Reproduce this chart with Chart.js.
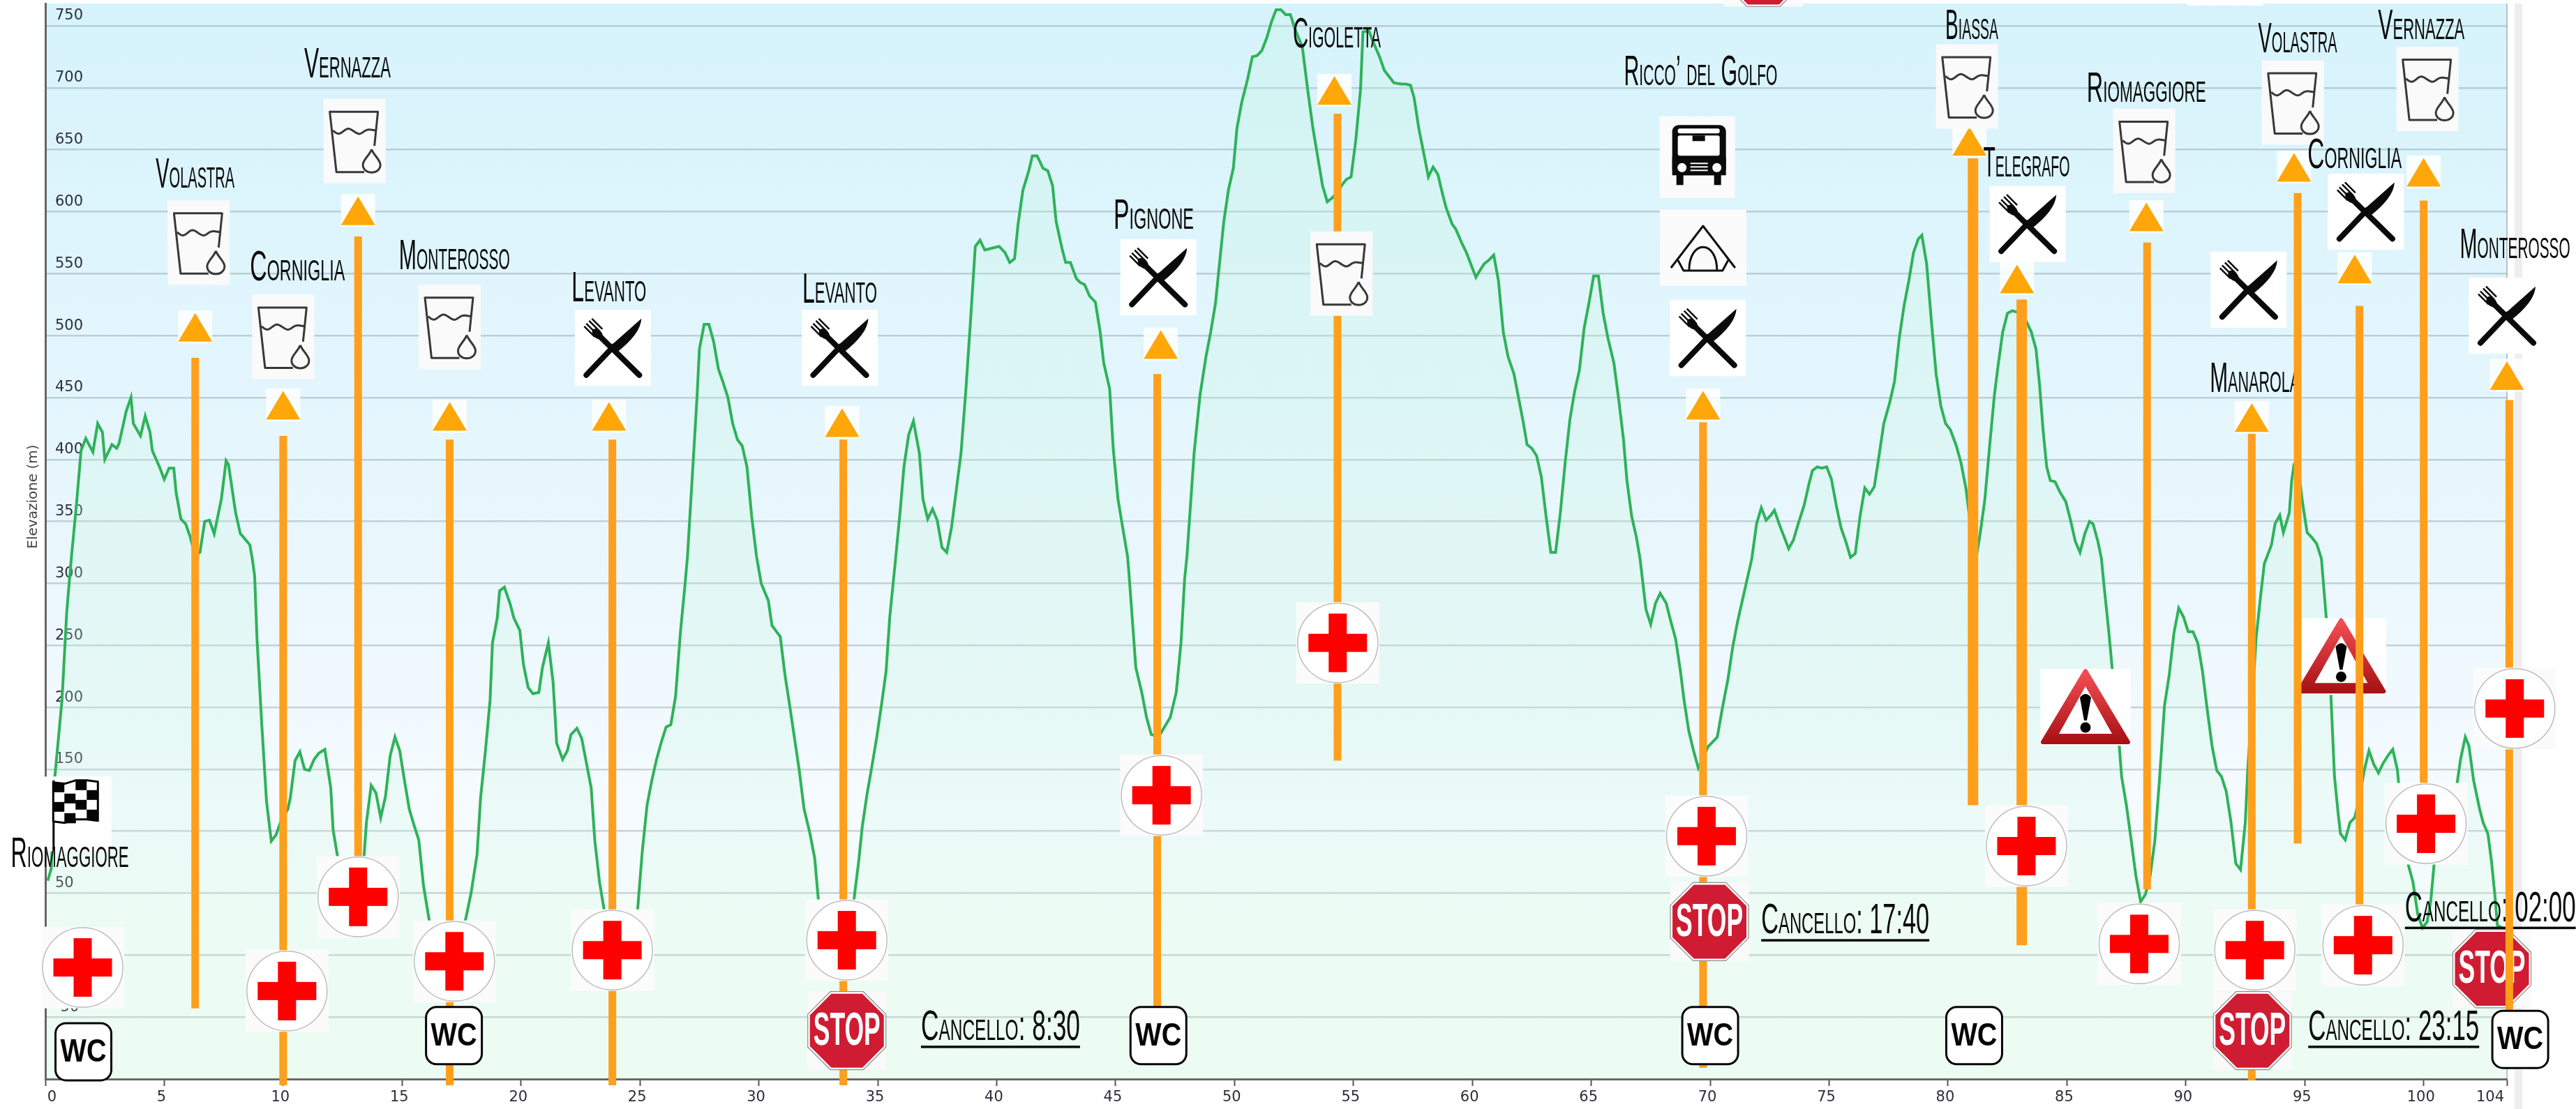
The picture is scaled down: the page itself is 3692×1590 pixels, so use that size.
<!DOCTYPE html>
<html lang="en">

<head>
  <meta charset="UTF-8">
  <title>Elevazione</title>
  <script src="https://cdn.jsdelivr.net/npm/chart.js"></script>
  <style>
    html, body { margin: 0; padding: 0; background: #fff; }
    canvas { display: block; }
  </style>
</head>

<body>
  <canvas id="profile" width="3692" height="1590"></canvas>

  <script>
    // elevation profile
    const distanceKm = [
      0.1, 0.25, 0.4, 0.7, 0.9, 1.0, 1.1, 1.3, 1.5, 1.7, 2.0, 2.2, 2.4, 2.5, 2.8, 3.0, 3.1, 3.4, 3.6, 3.7,
      4.0, 4.2, 4.4, 4.5, 4.8, 5.0, 5.2, 5.4, 5.5, 5.7, 5.9, 6.1, 6.3, 6.5, 6.7, 6.9, 7.1, 7.4, 7.6, 7.7,
      8.0, 8.2, 8.3, 8.6, 8.7, 8.8, 8.9, 9.1, 9.3, 9.5, 9.7, 9.9, 10.2, 10.3, 10.5, 10.7, 10.9, 11.1, 11.3, 11.5,
      11.75, 12.0, 12.1, 12.3, 12.6, 12.85, 13.0, 13.2, 13.4, 13.5, 13.7, 13.9, 14.1, 14.3, 14.5, 14.7, 14.9, 15.1, 15.3, 15.5,
      15.7, 15.9, 16.15, 16.5, 17.0, 17.3, 17.65, 17.9, 18.15, 18.3, 18.5, 18.7, 18.8, 19.0, 19.1, 19.3, 19.55, 19.7, 19.95, 20.1,
      20.3, 20.5, 20.75, 20.9, 21.15, 21.35, 21.5, 21.75, 21.95, 22.1, 22.35, 22.55, 22.75, 22.95, 23.1, 23.3, 23.5, 23.9, 24.3, 24.6,
      24.9, 25.1, 25.3, 25.5, 25.7, 25.9, 26.1, 26.3, 26.5, 26.7, 26.9, 27.0, 27.4, 27.5, 27.7, 27.9, 28.1, 28.3, 28.5, 28.7,
      28.9, 29.1, 29.3, 29.5, 29.7, 29.9, 30.1, 30.4, 30.55, 30.9, 31.1, 31.3, 31.5, 31.7, 31.9, 32.15, 32.35, 32.5, 32.9, 33.3,
      33.7, 34.0, 34.2, 34.35, 34.55, 34.75, 34.95, 35.15, 35.35, 35.5, 35.75, 35.95, 36.1, 36.3, 36.5, 36.75, 36.9, 37.1, 37.3, 37.5,
      37.7, 37.9, 38.1, 38.5, 38.7, 38.9, 39.1, 39.3, 39.5, 40.1, 40.35, 40.55, 40.75, 40.9, 41.1, 41.35, 41.5, 41.7, 41.95, 42.15,
      42.35, 42.5, 42.75, 42.9, 43.1, 43.35, 43.5, 43.7, 43.9, 44.15, 44.35, 44.5, 44.75, 44.9, 45.1, 45.3, 45.5, 45.55, 45.7, 45.85,
      46.1, 46.3, 46.5, 46.7, 46.9, 47.3, 47.55, 47.75, 47.9, 48.0, 48.3, 48.55, 48.8, 49.0, 49.2, 49.4, 49.55, 49.75, 49.95, 50.1,
      50.3, 50.55, 50.75, 50.95, 51.15, 51.35, 51.55, 51.75, 51.95, 52.15, 52.35, 52.55, 52.85, 53.1, 53.3, 53.5, 53.7, 53.9, 54.1, 54.3,
      54.5, 54.7, 54.9, 55.1, 55.3, 55.4, 55.65, 55.85, 56.1, 56.3, 56.5, 56.7, 57.0, 57.2, 57.4, 57.55, 57.75, 58.0, 58.15, 58.35,
      58.55, 58.75, 58.9, 59.15, 59.3, 59.55, 59.75, 59.95, 60.15, 60.3, 60.5, 60.7, 60.9, 61.1, 61.3, 61.5, 61.75, 61.95, 62.15, 62.3,
      62.5, 62.7, 62.9, 63.1, 63.3, 63.5, 63.7, 63.9, 64.1, 64.3, 64.5, 64.7, 64.9, 65.1, 65.3, 65.5, 65.7, 65.95, 66.15, 66.35,
      66.5, 66.7, 66.9, 67.05, 67.3, 67.5, 67.7, 67.9, 68.15, 68.35, 68.55, 68.75, 68.9, 69.1, 69.3, 69.5, 69.75, 69.9, 70.1, 70.3,
      70.5, 70.75, 70.95, 71.15, 71.35, 71.55, 71.75, 71.95, 72.15, 72.35, 72.55, 72.7, 72.9, 73.1, 73.3, 73.5, 73.7, 73.95, 74.15, 74.3,
      74.5, 74.7, 74.9, 75.1, 75.3, 75.5, 75.7, 75.9, 76.1, 76.3, 76.5, 76.7, 76.9, 77.1, 77.3, 77.55, 77.75, 77.95, 78.15, 78.35,
      78.55, 78.75, 78.9, 79.1, 79.3, 79.5, 79.7, 79.9, 80.1, 80.35, 80.55, 80.75, 80.9, 81.1, 81.2, 81.35, 81.55, 81.75, 81.95, 82.1,
      82.3, 82.5, 82.7, 82.9, 83.1, 83.3, 83.5, 83.7, 83.85, 84.0, 84.15, 84.3, 84.5, 84.7, 84.95, 85.15, 85.35, 85.55, 85.75, 85.95,
      86.1, 86.3, 86.45, 86.55, 86.75, 86.9, 87.2, 87.3, 87.5, 87.7, 87.9, 88.1, 88.3, 88.5, 88.7, 88.9, 89.1, 89.3, 89.5, 89.7,
      89.9, 90.1, 90.3, 90.5, 90.7, 90.9, 91.1, 91.3, 91.5, 91.7, 91.9, 92.1, 92.3, 92.5, 92.6, 92.8, 92.95, 93.15, 93.3, 93.6,
      93.75, 93.95, 94.1, 94.35, 94.45, 94.55, 94.7, 94.9, 95.1, 95.3, 95.5, 95.7, 95.9, 96.1, 96.25, 96.4, 96.5, 96.7, 96.9, 97.1,
      97.3, 97.5, 97.7, 97.9, 98.1, 98.3, 98.5, 98.7, 98.9, 99.05, 99.35, 99.55, 99.75, 99.95, 100.15, 100.3, 100.45, 101.4, 101.55, 101.75,
      101.9, 102.1, 102.35, 102.5, 102.7, 102.85, 103.0, 103.1, 103.3, 103.5
    ];
    const elevationM = [
      60, 70, 144, 206, 277, 300, 322, 362, 407, 417, 406, 429, 422, 400, 412, 409, 413, 439, 450, 429,
      419, 435, 422, 407, 394, 384, 393, 393, 373, 352, 348, 337, 322, 325, 350, 351, 340, 368, 399, 396,
      357, 340, 338, 331, 320, 306, 255, 186, 124, 92, 97, 108, 118, 127, 157, 164, 150, 149, 158, 163,
      166, 135, 101, 78, 60, 45, 40, 40, 80, 107, 137, 131, 111, 128, 161, 176, 165, 141, 118, 105,
      93, 56, 27, 12, 5, 12, 27, 50, 81, 127, 164, 206, 252, 272, 294, 297, 283, 272, 262, 235,
      216, 211, 212, 232, 252, 220, 171, 158, 165, 178, 183, 175, 155, 135, 93, 59, 36, 15, 10, 20,
      36, 84, 121, 141, 158, 172, 184, 186, 209, 260, 300, 322, 450, 489, 509, 509, 495, 473, 462, 450,
      429, 416, 411, 394, 354, 322, 300, 286, 266, 257, 226, 201, 175, 149, 118, 98, 78, 45, 25, 15,
      18, 45, 76, 104, 130, 152, 175, 201, 229, 272, 320, 360, 394, 420, 431, 405, 368, 352, 360, 351,
      329, 325, 345, 405, 455, 512, 572, 577, 569, 572, 567, 559, 562, 590, 617, 633, 645, 645, 635, 633,
      621, 592, 570, 559, 559, 546, 543, 541, 532, 527, 503, 478, 457, 409, 368, 345, 322, 311, 272, 232,
      212, 192, 178, 177, 179, 192, 212, 252, 303, 322, 405, 452, 483, 503, 526, 564, 592, 618, 635, 667,
      688, 707, 725, 726, 730, 740, 753, 763, 763, 759, 759, 747, 733, 695, 667, 644, 621, 608, 611, 615,
      621, 626, 628, 658, 699, 745, 746, 736, 725, 714, 709, 704, 703, 703, 702, 692, 667, 643, 628, 636,
      630, 614, 603, 590, 586, 575, 567, 557, 547, 552, 558, 561, 565, 544, 503, 483, 469, 449, 429, 412,
      409, 403, 386, 354, 325, 325, 357, 397, 432, 455, 472, 506, 526, 548, 548, 518, 498, 478, 449, 417,
      383, 354, 337, 320, 279, 267, 284, 292, 284, 269, 255, 229, 206, 181, 165, 151, 161, 168, 172, 176,
      198, 223, 249, 269, 286, 303, 320, 348, 361, 351, 355, 359, 348, 338, 328, 335, 348, 363, 380, 391,
      394, 393, 394, 384, 363, 345, 334, 321, 324, 354, 377, 372, 378, 403, 429, 446, 463, 498, 524, 544,
      567, 578, 581, 558, 512, 469, 443, 429, 424, 411, 397, 377, 354, 331, 322, 340, 368, 411, 452, 475,
      503, 518, 520, 519, 516, 511, 503, 489, 460, 423, 394, 383, 382, 374, 366, 351, 334, 325, 340, 350,
      348, 334, 320, 300, 263, 232, 169, 144, 121, 93, 64, 43, 49, 64, 93, 144, 201, 226, 260, 280,
      273, 261, 261, 252, 229, 198, 169, 149, 144, 132, 107, 74, 69, 107, 149, 206, 255, 291, 316, 331,
      348, 355, 341, 357, 383, 396, 397, 366, 341, 337, 332, 320, 273, 209, 144, 115, 98, 93, 107, 111,
      127, 149, 165, 154, 147, 155, 161, 166, 149, 115, 73, 59, 33, 22, 27, 44, 76, 138, 158, 176,
      169, 141, 118, 107, 98, 76, 47, 24, 22, 19
    ];

    // axes
    const xTickValues = [0, 5, 10, 15, 20, 25, 30, 35, 40, 45, 50, 55, 60, 65, 70, 75, 80, 85, 90, 95, 100, 103.5];
    const xTickLabels = ['0', '5', '10', '15', '20', '25', '30', '35', '40', '45', '50', '55', '60', '65', '70', '75', '80', '85', '90', '95', '100', '104'];
    const xMax = 103.5;
    const yMin = -100;
    const yMax = 768;
    const yTitle = 'Elevazione (m)';

    // orange uphill bars
    const barKm = [6.3, 10.0, 13.15, 17.0, 23.84, 33.55, 46.75, 54.33, 69.7, 81.05, 83.1, 88.37, 92.77, 94.7, 97.3, 100.0, 103.6];
    const barTopM = [482, 419, 580, 416, 416, 416, 469, 679, 430, 643, 529, 575, 421, 615, 524, 609, 448];
    const barBottomM = [-43, -105, 45, -105, -105, -105, -60, 157, -91, 121, 8, 53, -101, 90, 40, 139, -45];
    const barThickness = [11, 11, 11, 11, 11, 11, 11, 11, 11, 15, 15, 11, 11, 11, 11, 11, 11];

    // icon anchors: km along the route, metres on the elevation scale
    const triangleKm = [6.3, 10.0, 13.15, 17.0, 23.7, 33.5, 46.9, 54.2, 69.7, 80.9, 82.9, 88.34, 92.77, 94.55, 97.1, 100.0, 103.5];
    const triangleM = [507, 444, 601, 435, 435, 430, 493, 698, 444, 657, 546, 596, 434, 636, 554, 632, 468];
    const waterKm = [6.45, 10.0, 13.0, 17.0, 54.5, 80.8, 88.25, 94.5, 100.16];
    const waterM = [575, 499, 657, 507, 550, 701, 649, 688, 699];
    const foodKm = [23.86, 33.4, 46.8, 69.9, 83.35, 92.64, 97.57, 103.5, 91.65];
    const foodM = [490, 490, 547, 498, 590, 537, 600, 516, 797];
    const medicKm = [1.57, 10.16, 13.15, 17.2, 23.84, 33.7, 46.93, 54.34, 69.85, 83.3, 88.04, 92.9, 97.45, 100.1, 103.83];
    const medicM = [-10, -29, 47, -5, 4, 12, 129, 252, 96, 88, 9, 4, 8, 106, 199];
    const wcKm = [1.6, 17.18, 46.8, 70.0, 81.1, 104.06];
    const wcM = [-78, -65, -65, -65, -65, -68];
    const stopKm = [33.7, 69.97, 92.8, 72.24];
    const stopM = [-61, 27, -61, 797];
    const lateStopKm = [102.87];
    const lateStopM = [-11];
    const warningKm = [85.78, 96.53];
    const warningM = [200, 241];

    // place names
    const placeNames = ['Riomaggiore', 'Volastra', 'Corniglia', 'Vernazza', 'Monterosso', 'Levanto', 'Levanto', 'Pignone', 'Cigoletta', 'Ricco’ del Golfo', 'Biassa', 'Telegrafo', 'Riomaggiore', 'Volastra', 'Corniglia', 'Vernazza', 'Monterosso'];
    const placeKm = [1.03, 6.3, 10.6, 12.7, 17.2, 23.7, 33.4, 46.6, 54.3, 69.6, 81.0, 83.3, 88.34, 94.7, 97.1, 99.9, 103.84];
    const placeM = [81, 629, 554, 718, 563, 537, 536, 596, 742, 712, 749, 638, 698, 738, 645, 749, 572];
    const placeWidth = [169, 113, 136, 124, 159, 107, 107, 115, 126, 220, 76, 124, 171, 113, 135, 124, 158];
    const gateNames = ['Cancello: 8:30', 'Cancello: 17:40', 'Cancello: 23:15'];
    const gateKm = [40.16, 75.68, 98.74];
    const gateM = [-59, 27, -59];
    const gateWidth = [228, 241, 245];

    const narrow = '"Liberation Sans Narrow", "Liberation Sans", sans-serif';
    const nameFont = 'small-caps 62px ' + narrow;

    function fitText(ctx, text, cx, cy, width, font, color) {
      ctx.save();
      ctx.font = font;
      const natural = ctx.measureText(text).width;
      ctx.translate(cx, cy);
      ctx.scale(width / natural, 1);
      ctx.textAlign = 'center';
      ctx.textBaseline = 'middle';
      ctx.fillStyle = color;
      ctx.fillText(text, 0, 0);
      ctx.restore();
    }

    function box(ctx, cx, cy, w, h, color) {
      ctx.fillStyle = color;
      ctx.fillRect(cx - w / 2, cy - h / 2, w, h);
    }

    function drawTriangle(ctx, cx, cy) {
      box(ctx, cx, cy, 49, 47, 'rgba(255,255,255,0.85)');
      ctx.fillStyle = '#ffa608';
      ctx.beginPath();
      ctx.moveTo(cx, cy - 20);
      ctx.lineTo(cx + 24.5, cy + 21);
      ctx.lineTo(cx - 24.5, cy + 21);
      ctx.closePath();
      ctx.fill();
    }

    function drawWater(ctx, cx, cy) {
      box(ctx, cx, cy, 89, 121, '#fafafa');
      ctx.save();
      ctx.translate(cx, cy);
      ctx.strokeStyle = '#383838';
      ctx.lineWidth = 3;
      ctx.beginPath();
      ctx.moveTo(14, 44.5);
      ctx.lineTo(-26, 44.5);
      ctx.lineTo(-35.5, -42);
      ctx.lineTo(33.5, -42);
      ctx.lineTo(28.5, 7);
      ctx.stroke();
      ctx.beginPath();
      ctx.moveTo(-31, -15);
      ctx.bezierCurveTo(-24, -9, -22, -9, -16, -14);
      ctx.bezierCurveTo(-10, -19, -8, -19, -1, -14);
      ctx.bezierCurveTo(6, -9, 8, -9, 14, -14);
      ctx.bezierCurveTo(20, -18, 24, -16, 30, -15);
      ctx.stroke();
      ctx.beginPath();
      ctx.moveTo(24.5, 12);
      ctx.bezierCurveTo(28, 21, 37, 27, 37, 34);
      ctx.bezierCurveTo(37, 41, 31, 45, 24.5, 45);
      ctx.bezierCurveTo(18, 45, 12, 41, 12, 34);
      ctx.bezierCurveTo(12, 27, 21, 21, 24.5, 12);
      ctx.stroke();
      ctx.restore();
    }

    function drawFood(ctx, cx, cy) {
      box(ctx, cx, cy, 109, 109, '#ffffff');
      ctx.save();
      ctx.translate(cx, cy);
      ctx.strokeStyle = '#0a0a0a';
      ctx.fillStyle = '#0a0a0a';
      ctx.lineCap = 'round';
      // knife
      ctx.lineWidth = 8;
      ctx.beginPath();
      ctx.moveTo(-38, 39);
      ctx.lineTo(1, -2);
      ctx.stroke();
      ctx.beginPath();
      ctx.moveTo(-3, -3);
      ctx.lineTo(41, -42);
      ctx.quadraticCurveTo(40, -20, 5, 7);
      ctx.closePath();
      ctx.fill();
      // fork
      ctx.beginPath();
      ctx.moveTo(38, 39);
      ctx.lineTo(-18, -16);
      ctx.stroke();
      ctx.beginPath();
      ctx.ellipse(-22, -20, 6, 9, -Math.PI / 4, 0, Math.PI * 2);
      ctx.fill();
      ctx.lineWidth = 2.5;
      ctx.lineCap = 'butt';
      [[-41, -31], [-38, -35], [-34, -39], [-30, -42]].forEach(function (tine) {
        ctx.beginPath();
        ctx.moveTo(tine[0] + 15, tine[1] + 15);
        ctx.lineTo(tine[0], tine[1]);
        ctx.stroke();
      });
      ctx.restore();
    }

    function drawMedic(ctx, cx, cy) {
      box(ctx, cx, cy, 119, 117, '#fbfbfb');
      ctx.beginPath();
      ctx.ellipse(cx, cy, 57.5, 57, 0, 0, Math.PI * 2);
      ctx.fillStyle = '#ffffff';
      ctx.fill();
      ctx.strokeStyle = '#bdbdbd';
      ctx.lineWidth = 1.5;
      ctx.stroke();
      ctx.fillStyle = '#ff0000';
      ctx.fillRect(cx - 13, cy - 42, 26, 84);
      ctx.fillRect(cx - 42, cy - 13, 84, 26);
    }

    function drawWc(ctx, cx, cy) {
      ctx.beginPath();
      ctx.roundRect(cx - 40, cy - 41, 80, 82, 15);
      ctx.fillStyle = '#ffffff';
      ctx.fill();
      ctx.strokeStyle = '#050505';
      ctx.lineWidth = 3;
      ctx.stroke();
      fitText(ctx, 'WC', cx, cy + 1, 66, 'bold 46px "Liberation Sans", sans-serif', '#050505');
    }

    function drawStop(ctx, cx, cy) {
      box(ctx, cx, cy, 113, 112, '#fafafa');
      const octagon = function (r) {
        const c = r * 0.42;
        ctx.beginPath();
        ctx.moveTo(cx - c, cy - r);
        ctx.lineTo(cx + c, cy - r);
        ctx.lineTo(cx + r, cy - c);
        ctx.lineTo(cx + r, cy + c);
        ctx.lineTo(cx + c, cy + r);
        ctx.lineTo(cx - c, cy + r);
        ctx.lineTo(cx - r, cy + c);
        ctx.lineTo(cx - r, cy - c);
        ctx.closePath();
      };
      octagon(56);
      ctx.fillStyle = '#ffffff';
      ctx.fill();
      ctx.strokeStyle = '#8c8c8c';
      ctx.lineWidth = 1.2;
      ctx.stroke();
      octagon(53);
      ctx.fillStyle = '#cf1c33';
      ctx.fill();
      fitText(ctx, 'STOP', cx, cy + 2, 96, 'bold 66px ' + narrow, '#ffffff');
    }

    function drawWarning(ctx, cx, cy) {
      box(ctx, cx, cy, 129, 110, '#ffffff');
      const grad = ctx.createLinearGradient(0, cy - 55, 0, cy + 55);
      grad.addColorStop(0, '#f65055');
      grad.addColorStop(1, '#a30f12');
      ctx.fillStyle = grad;
      ctx.strokeStyle = grad;
      ctx.lineWidth = 6;
      ctx.lineJoin = 'round';
      ctx.beginPath();
      ctx.moveTo(cx, cy - 52);
      ctx.lineTo(cx + 61, cy + 50);
      ctx.lineTo(cx - 61, cy + 50);
      ctx.closePath();
      ctx.fill();
      ctx.stroke();
      ctx.fillStyle = '#ffffff';
      ctx.beginPath();
      ctx.moveTo(cx, cy - 30);
      ctx.lineTo(cx + 38, cy + 38);
      ctx.lineTo(cx - 38, cy + 38);
      ctx.closePath();
      ctx.fill();
      ctx.fillStyle = '#000000';
      ctx.beginPath();
      ctx.moveTo(cx - 8, cy - 14);
      ctx.quadraticCurveTo(cx, cy - 24, cx + 8, cy - 14);
      ctx.lineTo(cx + 2, cy + 19);
      ctx.lineTo(cx - 2, cy + 19);
      ctx.closePath();
      ctx.fill();
      ctx.beginPath();
      ctx.arc(cx, cy + 29, 7.5, 0, Math.PI * 2);
      ctx.fill();
    }

    function drawTent(ctx, cx, cy) {
      box(ctx, cx, cy, 124, 109, '#fbfbfb');
      ctx.save();
      ctx.translate(cx, cy);
      ctx.strokeStyle = '#111111';
      ctx.lineWidth = 3;
      ctx.lineJoin = 'round';
      ctx.beginPath();
      ctx.moveTo(-46, 29);
      ctx.lineTo(0, -31);
      ctx.lineTo(46, 29);
      ctx.stroke();
      ctx.beginPath();
      ctx.moveTo(-36, 18);
      ctx.lineTo(-28, 33);
      ctx.lineTo(28, 33);
      ctx.lineTo(36, 18);
      ctx.stroke();
      ctx.beginPath();
      ctx.moveTo(-20, 33);
      ctx.bezierCurveTo(-20, -12, 20, -12, 20, 33);
      ctx.stroke();
      ctx.restore();
    }

    function drawBus(ctx, cx, cy) {
      box(ctx, cx, cy, 108, 117, '#fbfbfb');
      ctx.save();
      ctx.translate(cx + 2, cy);
      ctx.fillStyle = '#0a0a0a';
      ctx.beginPath();
      ctx.roundRect(-38, -46, 77, 72, 9);
      ctx.fill();
      ctx.fillRect(-38, 0, 77, 26);
      ctx.fillRect(-32, 24, 10, 16);
      ctx.fillRect(22, 24, 10, 16);
      ctx.fillStyle = '#ffffff';
      ctx.beginPath();
      ctx.roundRect(-30, -41, 60, 7, 3);
      ctx.fill();
      ctx.beginPath();
      ctx.roundRect(-30, -31, 60, 29, 3);
      ctx.fill();
      ctx.fillStyle = '#0a0a0a';
      ctx.fillRect(-9, -31, 18, 8);
      ctx.fillStyle = '#ffffff';
      ctx.beginPath();
      ctx.arc(-24, 15, 6.5, 0, Math.PI * 2);
      ctx.arc(26, 15, 6.5, 0, Math.PI * 2);
      ctx.fill();
      ctx.fillRect(-12, 8, 25, 2);
      ctx.fillRect(-12, 13, 25, 2);
      ctx.fillRect(-12, 18, 25, 2);
      ctx.restore();
    }

    function drawFlag(ctx, cx, cy) {
      box(ctx, cx, cy, 103, 107, '#ffffff');
      ctx.fillStyle = '#050505';
      ctx.fillRect(cx - 33, cy - 48, 3, 100);
      const cols = 4;
      const rows = 4;
      const cw = 64 / cols;
      const ch = 56 / rows;
      const wave = [3, 5, 0, 0, 2];
      for (let c = 0; c < cols; c++) {
        for (let r = 0; r < rows; r++) {
          ctx.fillStyle = (c + r) % 2 === 0 ? '#050505' : '#ffffff';
          ctx.fillRect(cx - 32 + c * cw, cy - 48 + r * ch + wave[c], cw + 0.5, ch + 0.5);
        }
      }
      ctx.strokeStyle = '#050505';
      ctx.lineWidth = 3;
      ctx.beginPath();
      ctx.moveTo(cx - 32, cy - 45);
      for (let c = 1; c <= cols; c++) ctx.lineTo(cx - 32 + c * cw, cy - 48 + wave[c]);
      ctx.lineTo(cx + 32, cy + 10);
      for (let c = cols - 1; c >= 0; c--) ctx.lineTo(cx - 32 + c * cw, cy + 8 + wave[c]);
      ctx.closePath();
      ctx.stroke();
    }

    function placeIcons(chart, kms, ms, draw) {
      const x = chart.scales.x;
      const y = chart.scales.y;
      kms.forEach(function (km, i) {
        draw(chart.ctx, x.getPixelForValue(km), y.getPixelForValue(ms[i]));
      });
    }

    function drawPlaceName(chart, i) {
      fitText(chart.ctx, placeNames[i], chart.scales.x.getPixelForValue(placeKm[i]), chart.scales.y.getPixelForValue(placeM[i]),
        placeWidth[i], nameFont, '#0a0a0a');
    }

    function drawGate(chart, text, km, m, width) {
      const ctx = chart.ctx;
      const cx = chart.scales.x.getPixelForValue(km);
      const cy = chart.scales.y.getPixelForValue(m);
      fitText(ctx, text, cx, cy, width, nameFont, '#0a0a0a');
      ctx.fillStyle = '#0a0a0a';
      ctx.fillRect(cx - width / 2, cy + 25, width, 3.5);
    }

    const courseDecor = {
      id: 'courseDecor',
      beforeDraw(chart) {
        const ctx = chart.ctx;
        const area = chart.chartArea;
        const grad = ctx.createLinearGradient(0, area.top, 0, area.bottom);
        grad.addColorStop(0, '#d6f3fc');
        grad.addColorStop(0.5, '#e9f7fd');
        grad.addColorStop(0.75, '#f6fbff');
        grad.addColorStop(0.85, '#f2fcf8');
        grad.addColorStop(1, '#eefcf3');
        ctx.fillStyle = grad;
        ctx.fillRect(area.left, area.top, area.right - area.left, area.bottom - area.top);
        ctx.fillStyle = '#eeeeee';
        ctx.fillRect(area.right + 11, area.top, 11, chart.height - area.top);
        ctx.fillStyle = '#b9c2c6';
        ctx.fillRect(area.right - 1, area.top, 2, area.bottom - area.top);
      },
      afterDraw(chart) {
        const ctx = chart.ctx;
        // axis title sits off centre, so it is placed by hand
        ctx.save();
        ctx.translate(48, chart.scales.y.getPixelForValue(370));
        ctx.rotate(-Math.PI / 2);
        ctx.font = '20px "DejaVu Sans", sans-serif';
        ctx.textAlign = 'center';
        ctx.textBaseline = 'middle';
        ctx.fillStyle = '#444444';
        ctx.fillText(yTitle, 0, 0);
        ctx.restore();
      },
      afterDatasetDraw(chart, args) {
        // things the orange bars run over
        if (args.index !== 0) return;
        placeIcons(chart, lateStopKm, lateStopM, drawStop);
        placeIcons(chart, warningKm, warningM, drawWarning);
        drawGate(chart, 'Cancello: 02:00', 102.8, 37, 245);
        fitText(chart.ctx, 'Manarola', chart.scales.x.getPixelForValue(92.9), chart.scales.y.getPixelForValue(464),
          129, nameFont, '#0a0a0a');
      },
      afterDatasetsDraw(chart) {
        placeIcons(chart, triangleKm, triangleM, drawTriangle);
        placeIcons(chart, waterKm, waterM, drawWater);
        placeIcons(chart, foodKm, foodM, drawFood);
        placeIcons(chart, medicKm, medicM, drawMedic);
        placeIcons(chart, wcKm, wcM, drawWc);
        placeIcons(chart, stopKm, stopM, drawStop);
        placeIcons(chart, [69.7], [571], drawTent);
        placeIcons(chart, [69.46], [644], drawBus);
        placeIcons(chart, [1.27], [114], drawFlag);
        placeNames.forEach(function (name, i) {
          drawPlaceName(chart, i);
        });
        gateNames.forEach(function (name, i) {
          drawGate(chart, name, gateKm[i], gateM[i], gateWidth[i]);
        });
      }
    };

    const profileDataset = {
      label: 'Elevazione',
      data: distanceKm.map(function (km, i) { return { x: km, y: elevationM[i] }; }),
      borderColor: '#2fb25a',
      borderWidth: 4,
      pointRadius: 0,
      tension: 0,
      order: 1,
      fill: 'start',
      backgroundColor: function (context) {
        const area = context.chart.chartArea;
        if (!area) return 'rgba(0,0,0,0)';
        const grad = context.chart.ctx.createLinearGradient(0, area.top, 0, area.bottom);
        grad.addColorStop(0, 'rgba(195,245,220,0.25)');
        grad.addColorStop(0.7, 'rgba(195,245,220,0.24)');
        grad.addColorStop(1, 'rgba(220,252,230,0.1)');
        return grad;
      }
    };

    const barDatasets = barKm.map(function (km, i) {
      return {
        label: 'Salita ' + (i + 1),
        data: [{ x: km, y: barTopM[i] }, { x: km, y: barBottomM[i] }],
        borderColor: '#ff9f1c',
        borderWidth: barThickness[i],
        borderCapStyle: 'butt',
        pointRadius: 0,
        fill: false,
        clip: false,
        order: 0
      };
    });

    new Chart(document.getElementById('profile'), {
      type: 'line',
      data: { datasets: [profileDataset].concat(barDatasets) },
      plugins: [courseDecor],
      options: {
        responsive: false,
        animation: false,
        layout: { padding: { top: 5, right: 99, left: 0, bottom: 0 } },
        plugins: { legend: { display: false }, tooltip: { enabled: false } },
        scales: {
          x: {
            type: 'linear',
            min: 0,
            max: xMax,
            afterBuildTicks(scale) {
              scale.ticks = xTickValues.map(function (v) { return { value: v }; });
            },
            afterFit(scale) { scale.height = 43; },
            ticks: {
              autoSkip: false,
              maxRotation: 0,
              padding: 4,
              labelOffset: -4,
              color: '#2e2e3c',
              font: { family: '"DejaVu Sans"', size: 21 },
              callback(value) {
                const label = xTickLabels[xTickValues.indexOf(value)];
                if (label === '0') return '    0';
                if (label === '104') return '104      ';
                return label;
              }
            },
            grid: { drawOnChartArea: false, tickLength: 10, tickColor: '#555555', tickWidth: 2 },
            border: { color: '#666666', width: 3 }
          },
          y: {
            type: 'linear',
            min: yMin,
            max: yMax,
            afterFit(scale) {
              scale.width = 65;
              scale.paddingTop = 0;
              scale.paddingBottom = 0;
            },
            ticks: {
              stepSize: 50,
              includeBounds: false,
              mirror: true,
              padding: 14,
              labelOffset: -14,
              color: '#2e2e3c',
              font: { family: '"DejaVu Sans"', size: 21 }
            },
            grid: { color: 'rgba(120,140,145,0.36)', lineWidth: 2.5, drawTicks: false },
            border: { color: '#666666', width: 3 }
          }
        }
      }
    });
  </script>
</body>

</html>
